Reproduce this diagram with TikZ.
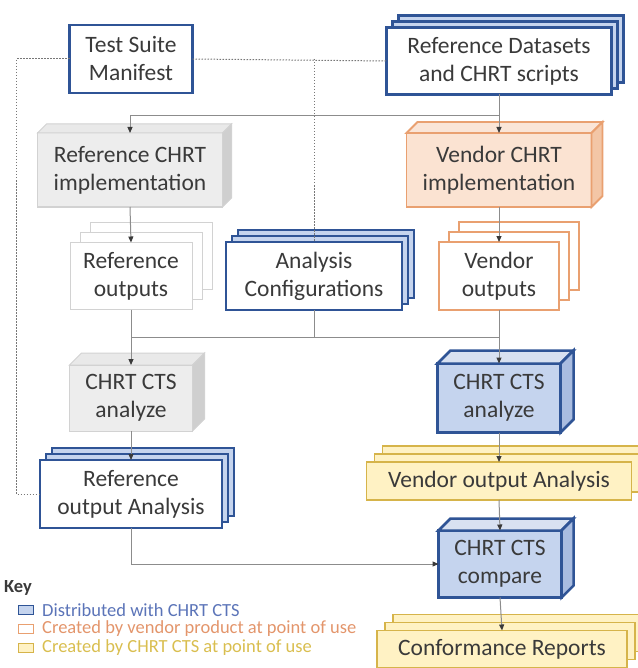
\documentclass[tikz,border=0pt]{standalone}
\usepackage{fontspec}
\setmainfont{Carlito}
\usetikzlibrary{arrows.meta,shadows}
\definecolor{darkblue}{HTML}{2F5496}
\definecolor{lightblue}{HTML}{C5D4EE}
\definecolor{midblue}{HTML}{A9BCE0}
\definecolor{vendorange}{HTML}{E9A070}
\definecolor{lightorange}{HTML}{FBE3D2}
\definecolor{sideorange}{HTML}{F3C6A6}
\definecolor{ctsyellow}{HTML}{D6B44A}
\definecolor{lightyellow}{HTML}{FFF2C4}
\definecolor{refgray}{HTML}{D2D2D2}
\definecolor{lightgray}{HTML}{EDEDED}
\definecolor{sidegray}{HTML}{CFCFCF}
\definecolor{textgray}{HTML}{3A3A3A}
\definecolor{linegray}{HTML}{8C8C8C}
\definecolor{keyblue}{HTML}{5B74B8}
\definecolor{keyorange}{HTML}{E3956B}
\definecolor{keyyellow}{HTML}{D9BE4F}

% top and right faces of a cube node
\newcommand{\cubefaces}[4]{%
  \draw[#4, fill=#3!45!white] (#1.north west) -- ++(#2,-#2) -- ([shift={(#2,-#2)}]#1.north east) -- (#1.north east) -- cycle;
  \draw[#4, fill=#3] (#1.north east) -- ++(#2,-#2) -- ([shift={(#2,-#2)}]#1.south east) -- (#1.south east) -- cycle;}

\begin{document}
\begin{tikzpicture}[x=1pt, y=-1pt,
  box/.style={rectangle, align=center, text=textgray, inner sep=0pt, outer sep=0pt,
    font=\fontsize{23.5}{28}\selectfont},
  bluebox/.style={box, draw=darkblue, line width=2.5pt, fill=white},
  bluestack/.style={bluebox, double copy shadow={shadow xshift=6pt, shadow yshift=6pt,
    draw=darkblue, fill=lightblue, line width=2.5pt}},
  graystack/.style={box, draw=refgray, line width=1pt, fill=white, double copy shadow={
    shadow xshift=10pt, shadow yshift=10pt, draw=refgray, fill=white, line width=1pt}},
  orangestack/.style={box, draw=vendorange, line width=1.8pt, fill=white, double copy shadow={
    shadow xshift=10pt, shadow yshift=10pt, draw=vendorange, fill=white, line width=1.8pt}},
  yellowstack/.style={box, draw=ctsyellow, line width=1.8pt, fill=lightyellow, double copy shadow={
    shadow xshift=8pt, shadow yshift=8pt, draw=ctsyellow, fill=lightyellow, line width=1.8pt}},
  graycube/.style={box, draw=refgray, line width=1pt, fill=lightgray},
  orangecube/.style={box, draw=vendorange, line width=1.8pt, fill=lightorange},
  bluecube/.style={box, draw=darkblue, line width=2.5pt, fill=lightblue},
  conn/.style={draw=linegray, line width=1pt, -{Triangle[length=6pt,width=5pt,color=textgray]}},
  plain/.style={draw=linegray, line width=1pt},
  dotline/.style={draw=linegray!85!black, line width=1pt, dash pattern=on 1.5pt off 1.5pt},
  keymark/.style={rectangle, minimum width=15pt, minimum height=9pt, inner sep=0pt, line width=1.6pt},
  keytext/.style={anchor=west, inner sep=0pt, font=\fontsize{18.5}{20}\selectfont}]

\useasboundingbox (0,0) rectangle (637,668);

% top row
\node[bluebox, minimum width=123pt, minimum height=68pt] (manifest) at (131,59) {Test Suite\\Manifest};
\node[bluestack, minimum width=225pt, minimum height=67pt] (refdata) at (499,61) {Reference Datasets\\and CHRT scripts};

% implementations
\node[graycube, minimum width=185pt, minimum height=74pt] (refimpl) at (130,170) {Reference CHRT\\implementation};
\cubefaces{refimpl}{9}{sidegray}{draw=refgray, line width=1pt}
\node[orangecube, minimum width=185pt, minimum height=74pt] (vendimpl) at (499,170) {Vendor CHRT\\implementation};
\cubefaces{vendimpl}{11}{sideorange}{draw=vendorange, line width=1.8pt}

% outputs and configurations
\node[graystack, minimum width=122pt, minimum height=67pt] (refout) at (131,276) {Reference\\outputs};
\node[bluestack, minimum width=176pt, minimum height=68pt] (config) at (314,276) {Analysis\\Configurations};
\node[orangestack, minimum width=120pt, minimum height=68pt] (vendout) at (499,276) {Vendor\\outputs};

% analyze
\node[graycube, minimum width=123pt, minimum height=66pt] (anagray) at (131,398) {CHRT CTS\\analyze};
\cubefaces{anagray}{12}{sidegray}{draw=refgray, line width=1pt}
\node[bluecube, minimum width=123pt, minimum height=69pt] (anablue) at (499,398) {CHRT CTS\\analyze};
\cubefaces{anablue}{13}{midblue}{draw=darkblue, line width=2.5pt}

% analysis results
\node[bluestack, minimum width=182pt, minimum height=68pt] (refana) at (131,494) {Reference\\output Analysis};
\node[yellowstack, minimum width=265pt, minimum height=38pt] (vendana) at (499,481) {Vendor output Analysis};

% compare and reports
\node[bluecube, minimum width=123pt, minimum height=67pt] (compare) at (500,564) {CHRT CTS\\compare};
\cubefaces{compare}{12}{midblue}{draw=darkblue, line width=2.5pt}
\node[yellowstack, minimum width=250pt, minimum height=37pt] (conf) at (502,649) {Conformance Reports};

% key
\node[anchor=west, inner sep=0pt, text=textgray, font=\fontsize{18.5}{20}\selectfont\bfseries] (key) at (4,588) {Key};
\node[keymark, draw=darkblue, fill=lightblue] (kblue) at (26,610) {};
\node[keytext, text=keyblue] (kbluetext) at (42,610) {Distributed with CHRT CTS};
\node[keymark, draw=vendorange, fill=white] (korange) at (26,629) {};
\node[keytext, text=keyorange] (korangetext) at (42,629) {Created by vendor product at point of use};
\node[keymark, draw=ctsyellow, fill=lightyellow] (kyellow) at (26,648) {};
\node[keytext, text=keyyellow] (kyellowtext) at (42,648) {Created by CHRT CTS at point of use};

% connectors
\coordinate (split) at (499,116);
\coordinate (cfgbus) at (314,337);
\draw[dotline] (manifest.east) -- (refdata.west);
\draw[dotline] (manifest.east -| config.north) -- (config.north);
\draw[dotline] (manifest.west) -- ++(-53,0) |- (refana.west);
\draw[conn] (refdata.south) -- (vendimpl.north);
\draw[conn] (split) -| (refimpl.north);
\draw[conn] (refimpl.south) -- (refout.north);
\draw[conn] (vendimpl.south) -- (vendout.north);
\draw[plain] (config.south) -- (cfgbus);
\draw[plain] (refout.south |- cfgbus) -- (vendout.south |- cfgbus);
\draw[conn] (refout.south) -- (anagray.north);
\draw[conn] (vendout.south) -- (anablue.north);
\draw[conn] (anagray.south) -- (refana.north);
\draw[conn] (anablue.south) -- (vendana.north);
\draw[conn] (vendana.south) -- (compare.north);
\draw[conn] (refana.south) |- (compare.west);
\draw[conn] (compare.south) -- (conf.north);
\end{tikzpicture}
\end{document}
